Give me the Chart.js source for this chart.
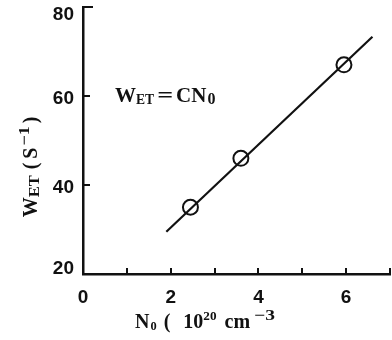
<!DOCTYPE html>
<html><head><meta charset="utf-8">
<script src="https://cdn.jsdelivr.net/npm/chart.js@4/dist/chart.umd.min.js"></script>
<style>html,body{margin:0;padding:0;background:#fff;overflow:hidden}canvas{display:block}</style>
</head><body><canvas id="c" width="392" height="340"></canvas>
<script>
// Measured transfer rate against donor concentration
const measuredN0 = [2.45, 3.6, 5.95];
const measuredW = [35, 46, 67];
// Straight-line fit, end points
const fitN0 = [1.9, 6.6];
const fitW = [29.5, 73.3];
// Axis ticks
const xTicks = [0, 1, 2, 3, 4, 5, 6, 7];
const xTickLabels = ['0', '', '2', '', '4', '', '6', ''];
const yTicks = [20, 40, 60, 80];
const yTickLabels = ['20', '40', '60', '80'];

const INK = '#111';
const SERIF = '"Liberation Serif", "DejaVu Serif", serif';
const SANS = '"Liberation Sans", Arial, sans-serif';

// Draws text runs (with sub/superscripts); gap adds space before a run, sx stretches it
function drawRuns(ctx, runs, x, y, size, align) {
  const parts = runs.map(r => {
    const s = size * (r.k || (r.mode ? 0.62 : 1));
    ctx.font = 'bold ' + s + 'px ' + SERIF;
    const sx = r.sx || 1;
    return {t: r.t, mode: r.mode, s, sx, gap: r.gap || 0, w: ctx.measureText(r.t).width * sx};
  });
  const total = parts.reduce((a, p) => a + p.w + p.gap, 0);
  let cx = align === 'center' ? x - total / 2 : x;
  ctx.textBaseline = 'alphabetic';
  ctx.textAlign = 'left';
  for (const p of parts) {
    cx += p.gap;
    ctx.font = 'bold ' + p.s + 'px ' + SERIF;
    let dy = 0;
    if (p.mode === 'sub') dy = size * 0.12;
    if (p.mode === 'sup') dy = -size * 0.4;
    ctx.save();
    ctx.translate(cx, y + dy);
    ctx.scale(p.sx, 1);
    ctx.fillText(p.t, 0, 0);
    ctx.restore();
    cx += p.w;
  }
}

const decor = {
  id: 'decor',
  afterDraw(chart) {
    const ctx = chart.ctx;
    const xs = chart.scales.x, ys = chart.scales.y;
    const area = chart.chartArea;
    ctx.save();
    ctx.strokeStyle = INK;
    ctx.lineWidth = 2;
    // inward tick marks
    xTicks.forEach(v => {
      if (v === 0) return;
      const px = Math.round(xs.getPixelForValue(v));
      ctx.beginPath(); ctx.moveTo(px, area.bottom); ctx.lineTo(px, area.bottom - 6); ctx.stroke();
    });
    yTicks.forEach(v => {
      if (v === 20) return;
      const py = Math.round(ys.getPixelForValue(v));
      ctx.beginPath(); ctx.moveTo(area.left, py); ctx.lineTo(area.left + (v === 80 ? 10 : 7), py); ctx.stroke();
    });
    ctx.fillStyle = INK;
    // y tick labels, kept between the axis ends
    ctx.font = 'bold 19px ' + SANS;
    ctx.textAlign = 'right';
    ctx.textBaseline = 'middle';
    yTicks.forEach((v, i) => {
      const py = Math.min(Math.max(ys.getPixelForValue(v) + 3, area.top + 8), area.bottom - 5);
      ctx.fillText(yTickLabels[i], area.left - 9, py);
    });
    // relation label
    drawRuns(ctx, [
      {t: 'W', sx: 1.05}, {t: 'ET', mode: 'sub', k: 0.68}, {t: '=', gap: 3, sx: 1.4}, {t: 'CN', gap: 3, sx: 1.05}, {t: '0', mode: 'sub', k: 0.8, gap: 1}
    ], 115, 102, 20, 'left');
    // x-axis title
    drawRuns(ctx, [
      {t: 'N'}, {t: '0', mode: 'sub', gap: 1}, {t: '(', gap: 7}, {t: '10', gap: 13}, {t: '20', mode: 'sup', k: 0.66},
      {t: 'cm', gap: 8}, {t: '\u22123', mode: 'sup', gap: 4, k: 0.75, sx: 1.3}
    ], 205, 328, 20, 'center');
    // y-axis title, rotated
    ctx.save();
    ctx.translate(37, 167);
    ctx.rotate(-Math.PI / 2);
    drawRuns(ctx, [
      {t: 'W'}, {t: 'ET', mode: 'sub', k: 0.75, sx: 1.1}, {t: '(', gap: 6}, {t: 'S', gap: 4}, {t: '\u22121', mode: 'sup', k: 0.75, gap: 2, sx: 1.2}, {t: ')', gap: 3}
    ], 0, 0, 20, 'center');
    ctx.restore();
    ctx.restore();
  }
};

new Chart(document.getElementById('c'), {
  type: 'scatter',
  data: {
    datasets: [
      {
        data: fitN0.map((x, i) => ({x, y: fitW[i]})),
        showLine: true, borderColor: INK, borderWidth: 2.2,
        pointRadius: 0, fill: false
      },
      {
        data: measuredN0.map((x, i) => ({x, y: measuredW[i]})),
        pointStyle: 'circle', pointRadius: 7.5, pointBorderWidth: 2,
        pointBorderColor: INK, pointBackgroundColor: 'rgba(0,0,0,0)'
      }
    ]
  },
  options: {
    responsive: false, animation: false,
    layout: {autoPadding: false, padding: {top: 7, right: 2, left: 0, bottom: 0}},
    plugins: {legend: {display: false}, tooltip: {enabled: false}},
    scales: {
      x: {
        type: 'linear', min: 0, max: 7,
        afterBuildTicks: s => { s.ticks = xTicks.map(v => ({value: v})); },
        afterFit: s => { s.height = 66; s.paddingLeft = 0; s.paddingRight = 0; },
        grid: {display: false, drawTicks: false},
        border: {display: true, color: INK, width: 2.5},
        ticks: {
          padding: 12, color: INK, maxRotation: 0, autoSkip: false,
          font: {family: SANS, weight: 'bold', size: 19},
          callback: v => xTickLabels[xTicks.indexOf(v)] ?? ''
        }
      },
      y: {
        type: 'linear', min: 20, max: 80,
        afterBuildTicks: s => { s.ticks = yTicks.map(v => ({value: v})); },
        afterFit: s => { s.width = 83; s.paddingTop = 0; s.paddingBottom = 0; },
        grid: {display: false, drawTicks: false},
        border: {display: true, color: INK, width: 2.5},
        ticks: {display: false}
      }
    }
  },
  plugins: [decor]
});
</script>
</body></html>
